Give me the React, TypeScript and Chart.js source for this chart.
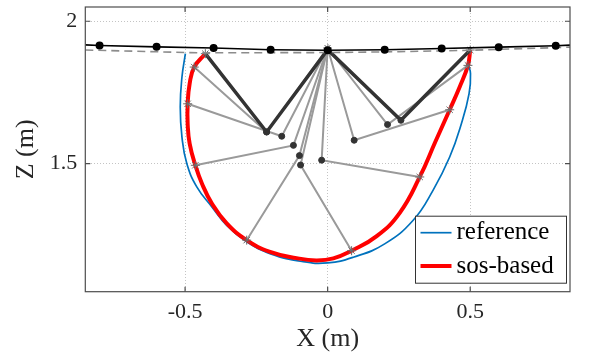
import React, { useEffect, useRef } from 'react';
import { Chart, registerables } from 'chart.js';
Chart.register(...registerables);

// ---- data ----
const xTicks = [-0.5, 0, 0.5];
const yTicks = [1.5, 2];

const groundX = [-0.85, -0.8, -0.6, -0.4, -0.2, 0, 0.2, 0.4, 0.6, 0.8, 0.85];
const groundZ = [1.917, 1.915, 1.91, 1.906, 1.9, 1.898, 1.9, 1.904, 1.909, 1.914, 1.916];

const dashX = [-0.85, -0.45, 0, 0.25, 0.5, 0.85];
const dashZ = [1.899, 1.889, 1.89, 1.893, 1.898, 1.909];

const refX = [-0.499, -0.511, -0.517, -0.511, -0.494, -0.459, -0.406, -0.354, -0.284, -0.2, -0.09, 0.0, 0.09, 0.2, 0.3, 0.37, 0.428, 0.469, 0.496, 0.501, 0.492];
const refZ = [1.886, 1.804, 1.699, 1.593, 1.5, 1.418, 1.348, 1.283, 1.225, 1.183, 1.156, 1.151, 1.171, 1.218, 1.301, 1.407, 1.523, 1.64, 1.746, 1.816, 1.851];

const sosX = [-0.429, -0.468, -0.484, -0.491, -0.491, -0.484, -0.464, -0.441, -0.406, -0.354, -0.284, -0.202, -0.109, -0.04, 0.02, 0.084, 0.172, 0.253, 0.323, 0.377, 0.428, 0.463, 0.492, 0.5];
const sosZ = [1.886, 1.839, 1.781, 1.71, 1.64, 1.57, 1.494, 1.43, 1.36, 1.29, 1.231, 1.19, 1.168, 1.16, 1.167, 1.194, 1.245, 1.327, 1.453, 1.575, 1.689, 1.769, 1.845, 1.899];

const legX = [-0.429, -0.214, 0, 0.257, 0.5];
const legZ = [1.886, 1.611, 1.9, 1.652, 1.899];

const hipX = 0;
const hipZ = 1.906;
const kneeX = [-0.214, -0.161, -0.12, -0.099, -0.095, -0.021, 0.093, 0.21];
const kneeZ = [1.611, 1.596, 1.564, 1.528, 1.495, 1.512, 1.582, 1.637];
const footX = [-0.468, -0.491, -0.464, -0.284, 0.084, 0.323, 0.428, 0.492];
const footZ = [1.839, 1.71, 1.494, 1.231, 1.194, 1.453, 1.689, 1.845];

const SERIF = "'Liberation Serif', 'Times New Roman', serif";
const TXT = '#262626';

const zip = (xs: number[], ys: number[]) => xs.map((x, i) => ({ x, y: ys[i] }));

const framePlugin = {
  id: 'frame',
  afterDraw(chart: any) {
    const { ctx, chartArea: a, scales } = chart;
    ctx.save();
    ctx.strokeStyle = '#4d4d4d';
    ctx.lineWidth = 1.2;
    ctx.strokeRect(a.left, a.top, a.right - a.left, a.bottom - a.top);
    const L = 5;
    ctx.beginPath();
    for (const v of xTicks) {
      const p = scales.x.getPixelForValue(v);
      ctx.moveTo(p, a.bottom); ctx.lineTo(p, a.bottom - L);
      ctx.moveTo(p, a.top); ctx.lineTo(p, a.top + L);
    }
    for (const v of yTicks) {
      const p = scales.y.getPixelForValue(v);
      ctx.moveTo(a.left, p); ctx.lineTo(a.left + L, p);
      ctx.moveTo(a.right, p); ctx.lineTo(a.right - L, p);
    }
    ctx.stroke();

    // legend
    const items = chart.data.datasets.filter((d: any) => d.inLegend);
    const w = 151, h = 67;
    const bx = a.right - 3.5 - w;
    const by = a.bottom - 8.5 - h;
    ctx.fillStyle = '#fff';
    ctx.fillRect(bx, by, w, h);
    ctx.strokeStyle = '#333';
    ctx.lineWidth = 1;
    ctx.strokeRect(bx, by, w, h);
    ctx.font = `25px ${SERIF}`;
    ctx.textBaseline = 'middle';
    ctx.textAlign = 'left';
    items.forEach((d: any, i: number) => {
      const yy = by + 16.5 + i * 33.3;
      ctx.strokeStyle = d.borderColor;
      ctx.lineWidth = d.borderWidth;
      ctx.beginPath();
      ctx.moveTo(bx + 5, yy);
      ctx.lineTo(bx + 36, yy);
      ctx.stroke();
      ctx.fillStyle = '#000';
      ctx.fillText(d.label, bx + 41, yy);
    });
    ctx.restore();
  },
};

export default function App() {
  const ref = useRef<HTMLCanvasElement | null>(null);
  useEffect(() => {
    if (!ref.current) return;
    const grayLegs = kneeX.map((kx, i) => ({
      label: 'leg' + i,
      data: [{ x: hipX, y: hipZ }, { x: kx, y: kneeZ[i] }, { x: footX[i], y: footZ[i] }],
      showLine: true,
      borderColor: '#9a9a9a',
      borderWidth: 2,
      pointStyle: ['star', 'circle', 'star'],
      pointRadius: [4, 3, 4.5],
      pointBackgroundColor: '#333',
      pointBorderColor: ['#b0b0b0', '#333', '#6a6a6a'],
      pointBorderWidth: 1,
      order: 4,
    }));
    const chart = new Chart(ref.current, {
      type: 'scatter',
      data: {
        datasets: [
          {
            label: 'reference',
            inLegend: true,
            data: zip(refX, refZ),
            showLine: true,
            borderColor: '#0072BD',
            borderWidth: 1.7,
            tension: 0.45,
            pointRadius: 0,
            order: 6,
          },
          {
            label: 'sos-based',
            inLegend: true,
            data: zip(sosX, sosZ),
            showLine: true,
            borderColor: '#ff0000',
            borderWidth: 4,
            tension: 0.45,
            pointRadius: 0,
            order: 5,
          },
          {
            label: 'ground',
            data: zip(groundX, groundZ),
            showLine: true,
            borderColor: '#000',
            borderWidth: 1.6,
            pointRadius: groundX.map((x) => (Math.abs(x) > 0.81 ? 0 : 3.2)),
            pointBackgroundColor: '#000',
            pointBorderColor: '#000',
            order: 1,
          },
          {
            label: 'dash',
            data: zip(dashX, dashZ),
            showLine: true,
            borderColor: '#8c8c8c',
            borderWidth: 1.6,
            borderDash: [8, 5],
            pointRadius: 0,
            order: 2,
          },
          {
            label: 'leg',
            data: zip(legX, legZ),
            showLine: true,
            borderColor: '#333',
            borderWidth: 3.5,
            pointStyle: ['star', 'circle', 'circle', 'circle', 'star'],
            pointRadius: [4.5, 3, 0, 3, 4.5],
            pointBackgroundColor: '#333',
            pointBorderColor: ['#6a6a6a', '#333', '#333', '#333', '#6a6a6a'],
            pointBorderWidth: 1,
            order: 3,
          },
          ...grayLegs,
        ] as any,
      },
      options: {
        responsive: false,
        animation: false,
        events: [],
        layout: { padding: { top: 7, right: 28, bottom: 0, left: 0 } },
        plugins: { legend: { display: false }, tooltip: { enabled: false } },
        scales: {
          x: {
            type: 'linear',
            min: -0.85,
            max: 0.85,
            afterBuildTicks: (s: any) => { s.ticks = xTicks.map((v) => ({ value: v })); },
            afterFit: (s: any) => { s.height = 60.3; s.paddingLeft = 0; s.paddingRight = 0; },
            grid: { color: '#c4c4c4', drawTicks: false, lineWidth: 1 },
            border: { display: false, dash: [1, 2] },
            ticks: { padding: 7, color: TXT, font: { family: SERIF, size: 22 }, callback: (v: any) => String(v) },
            title: { display: true, text: 'X (m)', color: TXT, font: { family: SERIF, size: 26, lineHeight: 1 }, padding: 0 },
          },
          y: {
            type: 'linear',
            min: 1.05,
            max: 2.05,
            afterBuildTicks: (s: any) => { s.ticks = yTicks.map((v) => ({ value: v })); },
            afterFit: (s: any) => { s.width = 85.3; s.paddingTop = 0; s.paddingBottom = 0; },
            grid: { color: '#c4c4c4', drawTicks: false, lineWidth: 1 },
            border: { display: false, dash: [1, 2] },
            ticks: { padding: 8, color: TXT, font: { family: SERIF, size: 22 }, callback: (v: any) => String(v) },
            title: { display: true, text: 'Z (m)', color: TXT, font: { family: SERIF, size: 26, lineHeight: 1 }, padding: { top: 13, bottom: 0 } },
          },
        },
      } as any,
      plugins: [framePlugin],
    });
    return () => chart.destroy();
  }, []);
  return (
    <div style={{ position: 'fixed', left: 0, top: 0, width: 598, height: 352, background: '#fff' }}>
      <canvas ref={ref} width={598} height={352} style={{ display: 'block' }} />
    </div>
  );
}
